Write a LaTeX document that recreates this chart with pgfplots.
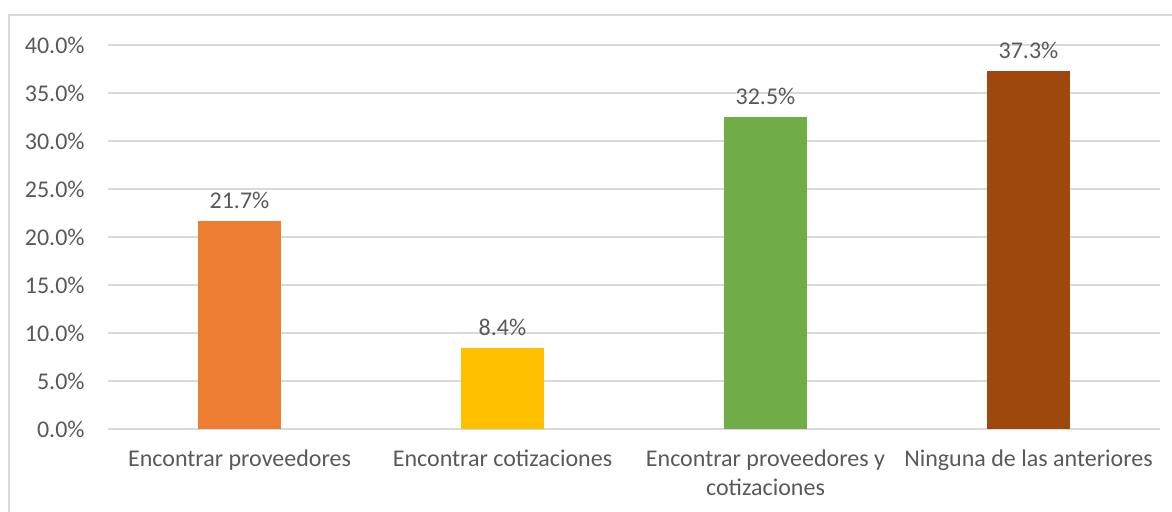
\documentclass[border=0pt]{standalone}
\usepackage{pgfplots}
\pgfplotsset{compat=1.18}
\usepackage{fontspec}
\setmainfont{Carlito}
\definecolor{txt}{HTML}{595959}
\definecolor{grd}{HTML}{D9D9D9}
\definecolor{c1}{HTML}{ED7D31}
\definecolor{c2}{HTML}{FFC000}
\definecolor{c3}{HTML}{70AD47}
\definecolor{c4}{HTML}{9E480E}
\begin{document}
\begin{tikzpicture}
\useasboundingbox (-54pt,-41pt) rectangle (532pt,214.5pt);
\clip (-54pt,-41pt) rectangle (532pt,214.5pt);
\draw[grd, line width=0.6pt] (-49.5pt,-60pt) -- (-49.5pt,207pt) -- (560pt,207pt);
\begin{axis}[
  at={(0,0)}, anchor=south west,
  scale only axis, width=526pt, height=192pt,
  xmin=-0.5, xmax=3.5, ymin=0, ymax=40,
  ytick={0,5,...,40},
  xtick={0,1,2,3},
  xticklabels={Encontrar proveedores, Encontrar cotizaciones, {Encontrar proveedores y\\cotizaciones}, Ninguna de las anteriores},
  major tick length=0pt,
  axis line style={draw=none},
  ymajorgrids, grid style={grd, line width=0.6pt},
  tick label style={font=\fontsize{12}{14.5}\selectfont, text=txt},
  yticklabel={\pgfmathprintnumber[fixed,fixed zerofill,precision=1,assume math mode=true]{\tick}\%},
  yticklabel style={anchor=east, inner sep=0pt, xshift=-11.5pt},
  xticklabel style={anchor=north, inner sep=0pt, yshift=-10pt, align=center},
  ybar, bar width=41.5pt, bar shift=0pt,
  nodes near coords={\pgfmathprintnumber[fixed,fixed zerofill,precision=1,assume math mode=true]{\pgfplotspointmeta}\%},
  nodes near coords style={font=\fontsize{12}{14.5}\selectfont, text=txt, anchor=south, inner sep=0pt, yshift=6pt},
]
\addplot[fill=c1, draw=none] coordinates {(0,21.7)};
\addplot[fill=c2, draw=none] coordinates {(1,8.4)};
\addplot[fill=c3, draw=none] coordinates {(2,32.5)};
\addplot[fill=c4, draw=none] coordinates {(3,37.3)};
\end{axis}
\end{tikzpicture}
\end{document}
